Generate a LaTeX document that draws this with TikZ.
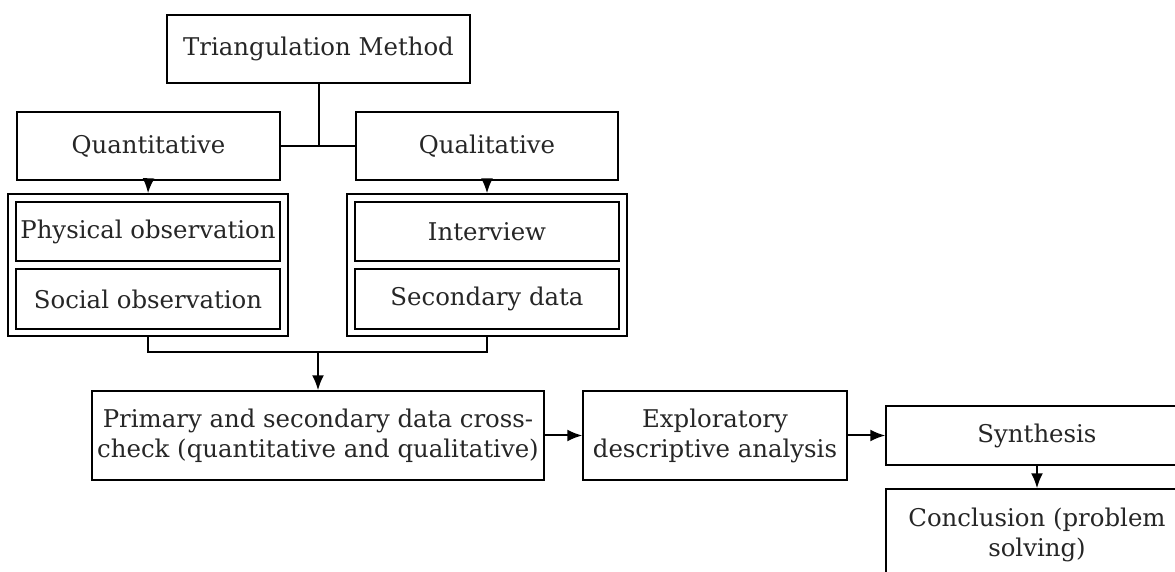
\documentclass[tikz,border=0pt]{standalone}
\usepackage{fontspec}
\setmainfont{DejaVu Serif}
\usetikzlibrary{arrows.meta}

\begin{document}
\begin{tikzpicture}[x=0.5pt,y=-0.5pt,
  box/.style={draw,line width=0.7pt,align=center,inner sep=0pt,text=black!85,
    font=\fontsize{12.2}{15}\selectfont},
  link/.style={line width=1pt},
  arr/.style={line width=1pt,-{Latex[length=7.5pt,width=6pt]}}]
\useasboundingbox (0,0) rectangle (1175,572);

\node[box,minimum width=151.5pt,minimum height=34pt] (tri) at (318.5,49) {Triangulation Method};
\node[box,minimum width=131.5pt,minimum height=34pt] (quan) at (148.5,146) {Quantitative};
\node[box,minimum width=131pt,minimum height=34pt] (qual) at (487,146) {Qualitative};

% grouped boxes
\node[box,minimum width=140pt,minimum height=71pt] (grpl) at (148,265) {};
\node[box,minimum width=132pt,minimum height=29.5pt] (phys) at (148,231.5) {Physical observation};
\node[box,minimum width=132pt,minimum height=30pt] (soc) at (148,299) {Social observation};
\node[box,minimum width=140pt,minimum height=71pt] (grpr) at (487,265) {};
\node[box,minimum width=132pt,minimum height=29.5pt] (inter) at (487,231.5) {Interview};
\node[box,minimum width=132pt,minimum height=30pt] (sec) at (487,299) {Secondary data};

\node[box,minimum width=226pt,minimum height=44.5pt] (prim) at (318,435.5) {Primary and secondary data cross-\\check (quantitative and qualitative)};
\node[box,minimum width=132pt,minimum height=44.5pt] (expl) at (715,435.5) {Exploratory\\descriptive analysis};
\node[box,minimum width=151pt,minimum height=29.5pt] (syn) at (1037,435.5) {Synthesis};
\node[box,minimum width=151pt,minimum height=46pt] (concl) at (1037,535) {Conclusion (problem\\solving)};

\coordinate (mid) at (tri.south |- quan.east);
\coordinate (join) at (318,352);

\draw[link] (tri.south) -- (mid);
\draw[link] (quan.east) -- (qual.west);
\draw[arr] (quan.south) -- (grpl.north);
\draw[arr] (qual.south) -- (grpr.north);
\draw[link] (grpl.south) |- (join) -| (grpr.south);
\draw[arr] (join) -- (prim.north);
\draw[arr] (prim.east) -- (expl.west);
\draw[arr] (expl.east) -- (syn.west);
\draw[arr] (syn.south) -- (concl.north);
\end{tikzpicture}
\end{document}
